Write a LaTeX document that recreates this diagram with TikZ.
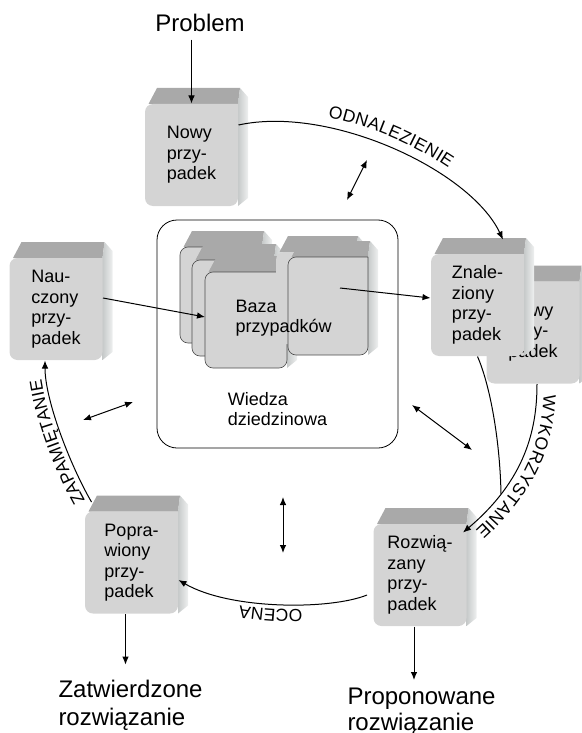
\documentclass[tikz,border=0pt]{standalone}
\usepackage{fontspec}
\setmainfont{Liberation Sans}
\usetikzlibrary{arrows.meta,decorations.text}

\definecolor{szaryLico}{HTML}{D4D4D4}
\definecolor{szaryPasek}{HTML}{A9A9A9}
\definecolor{bokJasny}{HTML}{EEF0F0}
\definecolor{bokCiemny}{HTML}{C6C9C9}

\newcommand{\lukfont}{\fontsize{17.5}{17.5}\selectfont}

\tikzset{
  przyp/.style={align=left, minimum width=93pt, minimum height=102pt, inner sep=0pt,
    font=\fontsize{18}{20.5}\selectfont},
  tekst/.style={align=left, inner sep=0pt, font=\fontsize{18}{20}\selectfont},
  napis/.style={align=left, inner sep=0pt, font=\fontsize{24}{28}\selectfont},
  lico/.style={fill=szaryLico, rounded corners=8pt},
  pasek/.style={fill=szaryPasek},
  bok/.style={left color=bokCiemny, right color=bokJasny},
  kontur/.style={draw=black!70, line width=0.6pt}
}

% bryla przypadku: [opcje lica] x, y, pol. szerokosci, pol. wysokosci
\newcommand{\bryla}[5][]{%
  \begin{scope}[shift={(#2,#3)}]
    \fill[pasek] (-#4+3.5,-#5) -- (-#4+12,-#5-16) -- (#4+2,-#5-16) -- (#4,-#5) -- cycle;
    \shade[bok] (#4,-#5) -- (#4+2,-#5-16) -- (#4+10,-#5-7) -- (#4+10,#5-8) -- (#4,#5) -- cycle;
    \path[lico,#1] (#4,-#5) -- (-#4,-#5) -- (-#4,#5) -- (#4,#5) -- (#4,-#5);
  \end{scope}}

% przypadek z opisem: nazwa, x, y, tekst
\newcommand{\przypadek}[4]{%
  \bryla{#2}{#3}{46.5}{51}
  \node[przyp] (#1) at (#2,#3) {#4};}

\begin{document}
\begin{tikzpicture}[x=1pt,y=-1pt,line width=1pt,>={Latex[length=8pt,width=6.5pt]}]
\useasboundingbox (0,0) rectangle (581,733);

% wejscie
\node[napis,anchor=base] (problem) at (200,32) {Problem};
\przypadek{nowy}{191.5}{155}{Nowy\\przy-\\padek}
\draw[->,shorten <=7pt] (problem.south -| nowy.north) -- (nowy.north);

% wiedza dziedzinowa i baza przypadkow
\node[draw, rounded corners=20pt, minimum width=241pt, minimum height=228pt,
  line width=0.8pt] (wiedza) at (277.5,334) {};
\bryla[kontur]{221}{295}{41}{48}
\bryla[kontur]{233}{308}{41}{48}
\bryla[kontur]{246}{320}{41}{48}
\bryla{316}{298}{40}{46}
\bryla[kontur]{328}{306}{40}{49}
\node[tekst,anchor=north west] (baza) at (235,300) {Baza\\przypadków};
\node[tekst,anchor=north] (wiedzatekst) at (277.5,392) {Wiedza\\dziedzinowa};
\coordinate (bazaC) at (205,317);
\coordinate (bazaE) at (340,288);

% przypadki na okregu
\przypadek{naucz}{56}{309}{Nau-\\czony\\przy-\\padek}
\przypadek{nowydwa}{533}{332.5}{Nowy\\przy-\\padek}
\przypadek{znal}{477.5}{305}{Znale-\\ziony\\przy-\\padek}
\przypadek{popr}{131.5}{562.5}{Popra-\\wiony\\przy-\\padek}
\przypadek{rozw}{420}{575}{Rozwią-\\zany\\przy-\\padek}

% wyniki
\node[napis,anchor=north west] (zatw) at (58,679.6) {Zatwierdzone\\rozwiązanie};
\node[napis,anchor=north west,font=\fontsize{24}{25.5}\selectfont] (prop) at (347,687.6)
  {Proponowane\\rozwiązanie};
\draw[->,shorten >=15pt] ([xshift=-6pt]popr.south) -- ([xshift=-6pt]popr.south |- zatw.north);
\draw[->,shorten >=7.6pt] ([xshift=-6pt]rozw.south) -- ([xshift=-6pt]rozw.south |- prop.north);

% cykl
\draw[->,postaction={decorate},decoration={text along path,text align=center,raise=10pt,
  text={|\lukfont|ODNALEZIENIE}}]
  ([yshift=30pt]nowy.east) .. controls (330,105) and (470,170) .. ([xshift=25.5pt,yshift=14pt]znal.north);
\draw[->,postaction={decorate},decoration={text along path,text align=center,raise=7pt,
  text={|\lukfont|WYKORZYSTANIE}}]
  ([xshift=4pt]nowydwa.south) .. controls (537,430) and (525,480) .. ([xshift=-4pt,yshift=-9pt]rozw.north east);
\draw[->,postaction={decorate},decoration={text along path,text align=center,raise=5pt,
  text={|\lukfont|OCENA}}]
  ([xshift=-6pt,yshift=-20pt]rozw.west) .. controls (330,610) and (230,610) .. ([yshift=-17.5pt]popr.east);
\draw[->,postaction={decorate},decoration={text along path,text align={left indent=4pt},raise=5pt,
  text={|\lukfont|ZAPAMIĘTANIE}}]
  ([xshift=7pt,yshift=9pt]popr.north west) .. controls (70,465) and (45,400) .. ([xshift=-11pt]naucz.south);
\coordinate (zbieg) at (501,494);
\draw (znal.south) .. controls (490,385) and (500,440) .. (zbieg);

% baza
\draw[->] ([yshift=11pt]naucz.east) -- (bazaC);
\draw[->] (bazaE) -- ([yshift=7pt]znal.west);

% dostep do wiedzy
\coordinate (w1a) at (367,160);
\coordinate (w1b) at (347,200);
\coordinate (w2a) at (83,420);
\coordinate (w2b) at (133,402);
\coordinate (w3a) at (283,497);
\coordinate (w3b) at (283,553);
\coordinate (w4a) at (412,405);
\coordinate (w4b) at (472,450);
\draw[<->] (w1a) -- (w1b);
\draw[<->] (w2a) -- (w2b);
\draw[<->] (w3a) -- (w3b);
\draw[<->] (w4a) -- (w4b);
\end{tikzpicture}
\end{document}
